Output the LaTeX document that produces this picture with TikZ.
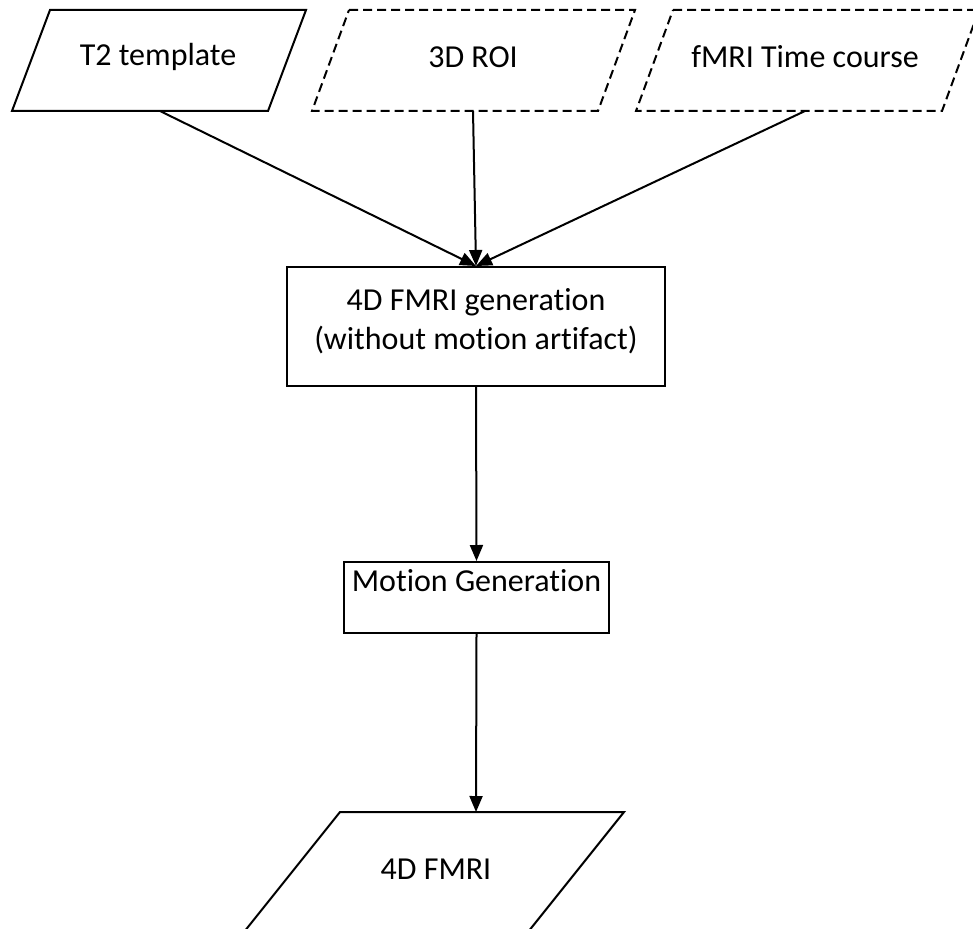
\documentclass[tikz,border=0pt]{standalone}
\usepackage{fontspec}
\setmainfont[Ligatures={NoCommon}]{Carlito}
\usetikzlibrary{arrows.meta}
\tikzset{
  shapeline/.style={line width=2pt, line join=miter},
  dashline/.style={shapeline, dash pattern=on 9pt off 5pt},
  lbl/.style={font=\fontsize{32}{39}\selectfont, inner sep=0pt, align=center},
  boxnode/.style={draw, line width=2pt, inner sep=0pt},
  conn/.style={line width=2pt, -{Triangle[length=16pt,width=13pt]}},
}
\begin{document}
\begin{tikzpicture}[x=1pt,y=-1pt]
\useasboundingbox (0,0) rectangle (973,928);
\clip (0,0) rectangle (973,928);
% input parallelograms
\draw[shapeline] (50,10) -- (306,10) -- (268,111) -- (12,111) -- cycle;
\draw[dashline] (349,10) -- (635,10) -- (598,111) -- (312,111) -- cycle;
\draw[dashline] (673,10) -- (979,10) -- (942,111) -- (636,111) -- cycle;
\node[lbl] (t2) at (158,57) {T2 template};
\node[lbl] (roi) at (473,57) {3D ROI};
\node[lbl] (tc) at (805,57) {fMRI Time course};
% process boxes
\node[boxnode, minimum width=378pt, minimum height=119pt] (gen) at (476,326.5) {};
\node[lbl] (gentext) at (476,321) {4D FMRI generation\\(without motion artifact)};
\node[boxnode, minimum width=265pt, minimum height=71pt] (mot) at (476.5,597.5) {};
\node[lbl] (mottext) at (476.5,581) {Motion Generation};
% output parallelogram
\draw[shapeline] (340,812) -- (624,812) -- (532,927) -- (440,1042) -- (156,1042) -- (248,927) -- cycle;
\node[lbl] (out) at (436,869) {4D FMRI};
% connector endpoints
\coordinate (t2out) at (160,111);
\coordinate (roiout) at (473,111);
\coordinate (tcout) at (805,111);
\coordinate (outin) at (476,812);
% connectors
\draw[conn] (t2out) -- (gen.north);
\draw[conn] (roiout) -- (gen.north);
\draw[conn] (tcout) -- (gen.north);
\draw[conn] (gen.south) -- (mot.north);
\draw[conn] (mot.south) -- (outin);
\end{tikzpicture}
\end{document}
